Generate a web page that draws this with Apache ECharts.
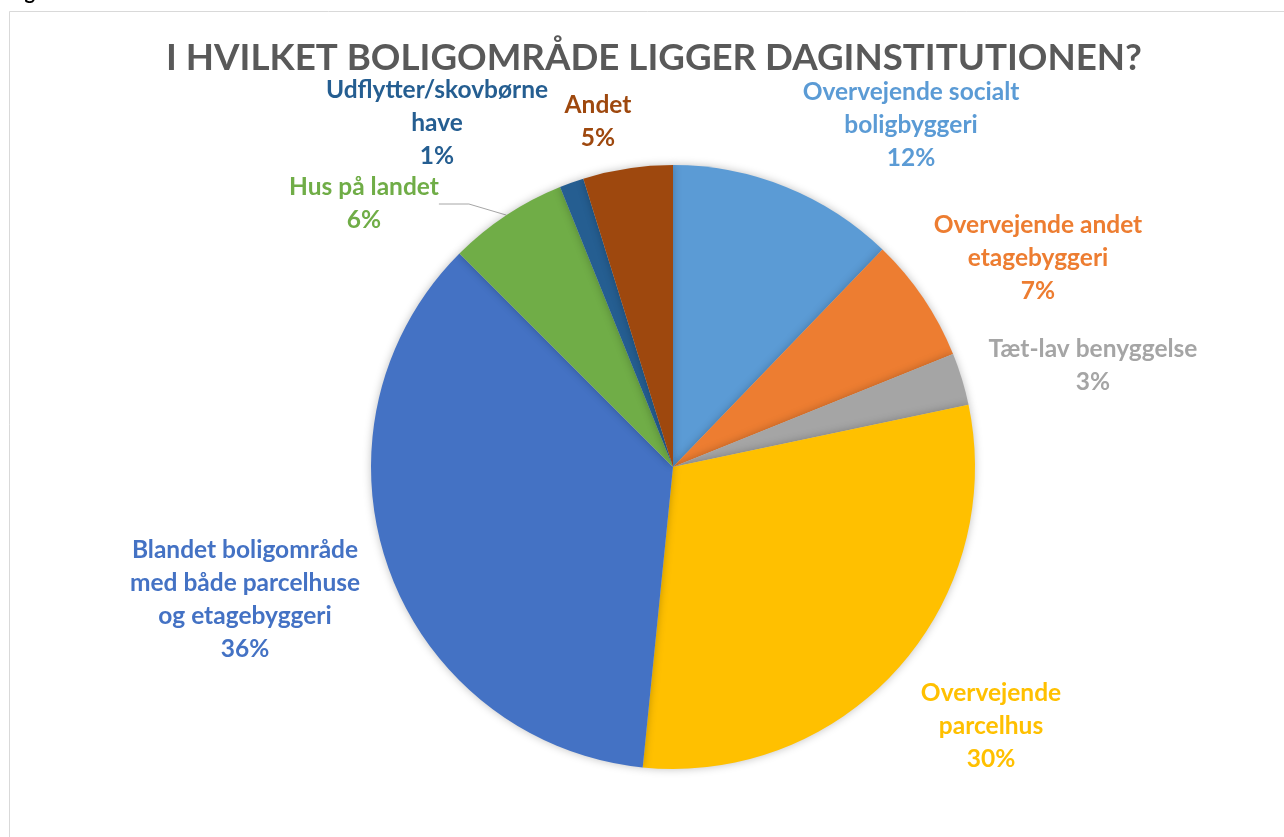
<!DOCTYPE html>
<html lang="da">
<head>
    <meta charset="UTF-8">
    <title>I hvilket boligområde ligger daginstitutionen?</title>
    <script src="https://cdn.jsdelivr.net/npm/echarts@6/dist/echarts.min.js"></script>
    <style>
        html, body { margin: 0; padding: 0; background: #fff; }
        #chart { width: 1284px; height: 837px; }
    </style>
</head>
<body>
<div id="chart"></div>
<script>
    // data
    var categories = [
        'Overvejende socialt\nboligbyggeri',
        'Overvejende andet\netagebyggeri',
        'Tæt-lav benyggelse',
        'Overvejende\nparcelhus',
        'Blandet boligområde\nmed både parcelhuse\nog etagebyggeri',
        'Hus på landet',
        'Udflytter/skovbørne\nhave',
        'Andet'
    ];
    var shares = [12.2, 6.7, 2.8, 29.9, 35.9, 6.4, 1.3, 4.8];

    // styling
    var colors = ['#5B9BD5', '#ED7D31', '#A5A5A5', '#FFC000', '#4472C4', '#70AD47', '#255E91', '#9E480E'];
    var labelPos = [[911, 125], [1038, 258], [1093, 366], [991, 726], [245, 600], [364, 204], [437, 123], [598, 122]];

    var chart = echarts.init(document.getElementById('chart'));

    var seriesData = categories.map(function (name, i) {
        return {
            name: name,
            value: shares[i],
            itemStyle: { color: colors[i] },
            label: { color: colors[i] },
            labelLine: { show: i === 5 }
        };
    });

    chart.setOption({
        backgroundColor: '#fff',
        animation: false,
        title: {
            text: 'I HVILKET BOLIGOMRÅDE LIGGER DAGINSTITUTIONEN?',
            left: 161,
            top: 35,
            textStyle: {
                fontFamily: 'Lato',
                fontWeight: 'bold',
                fontSize: 36.7,
                color: '#595959'
            }
        },
        graphic: [
            {
                type: 'rect',
                shape: { x: 9.5, y: 11.5, width: 1300, height: 900 },
                style: { fill: 'none', stroke: '#d9d9d9', lineWidth: 1 },
                silent: true
            },
            {
                type: 'text',
                left: 8, top: -17,
                style: { text: 'Fig.', font: 'bold 20px Lato', fill: '#000' },
                silent: true
            }
        ],
        series: [{
            type: 'pie',
            center: [673, 467],
            radius: 302,
            startAngle: 90,
            clockwise: true,
            percentPrecision: 0,
            avoidLabelOverlap: false,
            itemStyle: {
                borderWidth: 0,
                shadowBlur: 8,
                shadowColor: 'rgba(0,0,0,0.25)'
            },
            emphasis: { disabled: true },
            label: {
                show: true,
                position: 'outside',
                formatter: '{b}\n{d}%',
                fontFamily: 'Lato',
                fontWeight: 'bold',
                fontSize: 24.5,
                lineHeight: 33,
                align: 'center'
            },
            labelLine: {
                show: false,
                lineStyle: { color: '#a6a6a6', width: 1 }
            },
            labelLayout: function (params) {
                var p = labelPos[params.dataIndex];
                return { x: p[0], y: p[1], align: 'center', verticalAlign: 'middle' };
            },
            data: seriesData
        }]
    });
</script>
</body>
</html>
